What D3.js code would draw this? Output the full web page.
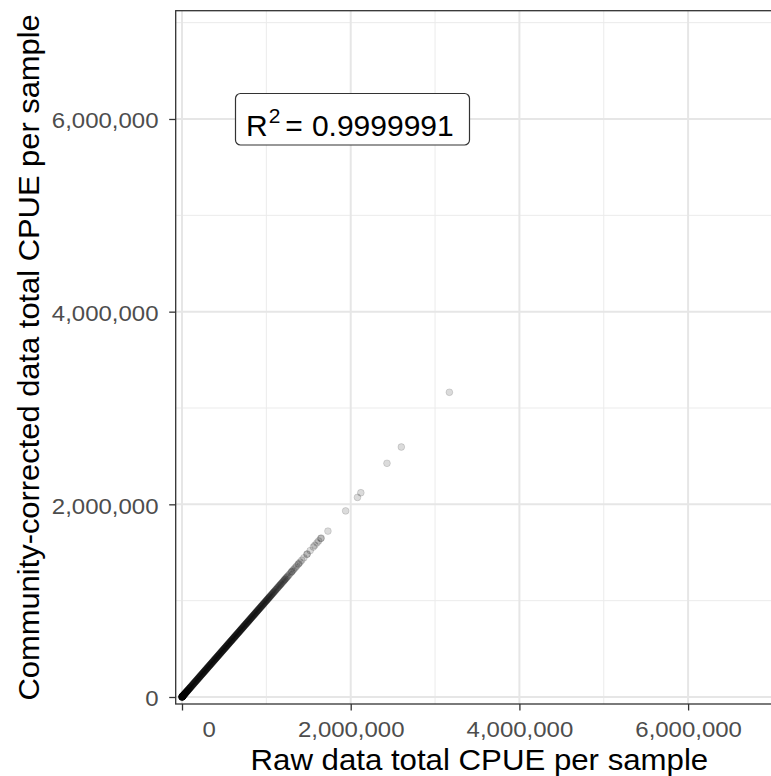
<!DOCTYPE html>
<html>
<head>
<meta charset="utf-8">
<script src="https://cdn.jsdelivr.net/npm/d3@7"></script>
<style>
  html, body { margin: 0; padding: 0; background: #ffffff; }
  svg { display: block; }
  text { font-family: "Liberation Sans", Arial, sans-serif; }
</style>
</head>
<body>
<svg id="chart" width="771" height="776"></svg>
<script>
// ---------------- data (CPUE values in thousands) ----------------
const rawCPUE = [
  0,0,0,0,1,1,1,2,2,3,3,4,5,5,6,7,8,9,10,11,12,14,15,17,18,20,22,23,25,27,29,31,33,35,38,40,42,45,47,50,52,55,57,60,63,66,68,71,74,77,80,83,86,89,92,95,98,
  101,104,108,111,115,119,122,126,130,133,137,141,144,148,152,156,159,163,167,170,174,178,182,185,189,193,196,200,204,208,211,215,219,222,226,230,234,237,241,245,249,252,256,260,263,267,271,275,278,282,286,290,293,297,301,305,308,312,316,320,323,327,331,335,338,342,346,350,353,357,361,365,368,372,376,380,384,387,391,395,399,402,406,410,414,418,421,425,429,433,437,440,444,448,452,456,459,463,467,471,475,479,482,486,490,494,498,502,505,509,513,517,521,525,528,532,536,540,544,548,552,555,559,563,567,571,575,579,583,586,590,594,598,602,606,610,614,618,621,625,629,633,637,641,645,649,653,657,661,665,669,673,677,681,685,689,693,697,701,705,709,713,717,721,725,729,733,737,741,745,750,754,758,762,766,770,774,779,783,787,791,795,800,804,808,812,817,821,825,830,834,838,843,847,851,856,860,864,869,873,878,882,887,891,896,900,905,909,914,918,923,928,932,937,942,946,951,956,961,965,970,975,980,985,990,995,1000,1005,1010,1015,1020,1026,1031,1036,1042,1047,1053,1058,1064,1070,1076,1082,1088,1094,1100,1107,1113,1120,1127,1134,1141,1148,
  1156,1162,1169,1175,1183,1190,1198,1205,1213,1220,1226,1235,1243,1252,1262,1275,1290,1300,1305,1318,1330,1345,1360,1378,1385,1400,1420,1445,1480,1485,1520,1557,1575,1600,1620,1645,1650,
  1730,1940,2080,2120,2430,2600,3170
];
const correctedCPUE = [
  0,0,0,0,1,1,1,2,2,3,3,4,5,5,6,7,8,9,10,11,12,14,15,17,18,20,22,23,25,27,29,31,33,35,38,40,42,45,47,50,52,55,57,60,63,66,68,71,74,77,80,83,86,89,92,95,98,
  101,104,108,111,115,119,122,126,130,133,137,141,144,148,152,156,159,163,167,170,174,178,182,185,189,193,196,200,204,208,211,215,219,222,226,230,234,237,241,245,249,252,256,260,263,267,271,275,278,282,286,290,293,297,301,305,308,312,316,320,323,327,331,335,338,342,346,350,353,357,361,365,368,372,376,380,384,387,391,395,399,402,406,410,414,418,421,425,429,433,437,440,444,448,452,456,459,463,467,471,475,479,482,486,490,494,498,502,505,509,513,517,521,525,528,532,536,540,544,548,552,555,559,563,567,571,575,579,583,586,590,594,598,602,606,610,614,618,621,625,629,633,637,641,645,649,653,657,661,665,669,673,677,681,685,689,693,697,701,705,709,713,717,721,725,729,733,737,741,745,750,754,758,762,766,770,774,779,783,787,791,795,800,804,808,812,817,821,825,830,834,838,843,847,851,856,860,864,869,873,878,882,887,891,896,900,905,909,914,918,923,928,932,937,942,946,951,956,961,965,970,975,980,985,990,995,1000,1005,1010,1015,1020,1026,1031,1036,1042,1047,1053,1058,1064,1070,1076,1082,1088,1094,1100,1107,1113,1120,1127,1134,1141,1148,
  1156,1162,1169,1175,1183,1190,1198,1205,1213,1220,1226,1235,1243,1252,1262,1275,1290,1300,1305,1318,1330,1345,1360,1378,1385,1400,1420,1445,1480,1485,1520,1557,1575,1600,1620,1645,1650,
  1722,1932,2072,2120,2426,2595,3163
];
const UNIT = 1000;
const xMajorTicks = [0, 2000000, 4000000, 6000000];
const xMinorTicks = [1000000, 3000000, 5000000, 7000000];
const yMajorTicks = [0, 2000000, 4000000, 6000000];
const yMinorTicks = [1000000, 3000000, 5000000, 7000000];
const xDomain = [-74700, 7125000];
const yDomain = [-72700, 7124000];
const xTitle = "Raw data total CPUE per sample";
const yTitle = "Community-corrected data total CPUE per sample";
const r2Value = "0.9999991";

// ---------------- layout ----------------
const panel = { left: 175.7, top: 10.7, right: 783, bottom: 704 };
const svg = d3.select("#chart");
svg.append("rect").attr("width", 771).attr("height", 776).attr("fill", "#ffffff");

const x = d3.scaleLinear().domain(xDomain).range([panel.left, panel.right]);
const y = d3.scaleLinear().domain(yDomain).range([panel.bottom, panel.top]);

// grid
const grid = svg.append("g");
grid.selectAll("line.xminor").data(xMinorTicks).join("line")
  .attr("x1", d => x(d)).attr("x2", d => x(d))
  .attr("y1", panel.top).attr("y2", panel.bottom)
  .attr("stroke", "#ebebeb").attr("stroke-width", 1);
grid.selectAll("line.yminor").data(yMinorTicks).join("line")
  .attr("y1", d => y(d)).attr("y2", d => y(d))
  .attr("x1", panel.left).attr("x2", panel.right)
  .attr("stroke", "#ebebeb").attr("stroke-width", 1);
grid.selectAll("line.xmajor").data(xMajorTicks).join("line")
  .attr("x1", d => x(d)).attr("x2", d => x(d))
  .attr("y1", panel.top).attr("y2", panel.bottom)
  .attr("stroke", "#e6e6e6").attr("stroke-width", 2);
grid.selectAll("line.ymajor").data(yMajorTicks).join("line")
  .attr("y1", d => y(d)).attr("y2", d => y(d))
  .attr("x1", panel.left).attr("x2", panel.right)
  .attr("stroke", "#e6e6e6").attr("stroke-width", 2);

// points
const pts = rawCPUE.map((v, i) => ({ raw: v * UNIT, cor: correctedCPUE[i] * UNIT }));
svg.append("g").selectAll("circle").data(pts).join("circle")
  .attr("cx", d => x(d.raw)).attr("cy", d => y(d.cor))
  .attr("r", 3.4)
  .attr("fill", "#000").attr("fill-opacity", 0.14)
  .attr("stroke", "#000").attr("stroke-opacity", 0.14).attr("stroke-width", 0.9);

// panel border
svg.append("rect")
  .attr("x", panel.left).attr("y", panel.top)
  .attr("width", panel.right - panel.left).attr("height", panel.bottom - panel.top)
  .attr("fill", "none").attr("stroke", "#333333").attr("stroke-width", 1.3);

// tick formatting (padded to common width, like R's format())
const fmt = d3.format(",");
const maxLen = d3.max(xMajorTicks, d => fmt(d).length);
const padFmt = d => fmt(d).padStart(maxLen, " ");

// x axis
const xAxis = svg.append("g").attr("transform", `translate(0,${panel.bottom})`)
  .call(d3.axisBottom(x).tickValues(xMajorTicks).tickSize(6.5).tickFormat(padFmt));
xAxis.select(".domain").remove();
xAxis.selectAll(".tick line").attr("stroke", "#333333").attr("stroke-width", 1.3);
xAxis.selectAll(".tick text")
  .attr("y", 0).attr("dy", 0)
  .attr("xml:space", "preserve").style("white-space", "pre")
  .attr("transform", "translate(0,33.3) scale(1.09,1)")
  .attr("font-size", 22).attr("fill", "#4d4d4d")
  .attr("font-family", "'Liberation Sans', Arial, sans-serif");

// y axis
const yAxis = svg.append("g").attr("transform", `translate(${panel.left},0)`)
  .call(d3.axisLeft(y).tickValues(yMajorTicks).tickSize(6.5).tickFormat(fmt));
yAxis.select(".domain").remove();
yAxis.selectAll(".tick line").attr("stroke", "#333333").attr("stroke-width", 1.3);
yAxis.selectAll(".tick text")
  .attr("x", 0).attr("dy", "0.36em")
  .attr("transform", "translate(-17.2,0.8) scale(1.09,1)")
  .attr("font-size", 22).attr("fill", "#4d4d4d")
  .attr("font-family", "'Liberation Sans', Arial, sans-serif");

// axis titles
svg.append("text")
  .attr("transform", `translate(${(panel.left + panel.right) / 2},769.6) scale(1.076,1)`)
  .attr("text-anchor", "middle").attr("font-size", 29).attr("fill", "#000")
  .text(xTitle);
svg.append("text")
  .attr("transform", `translate(38.5,${(panel.top + panel.bottom) / 2}) rotate(-90) scale(1.065,1)`)
  .attr("text-anchor", "middle").attr("font-size", 29).attr("fill", "#000")
  .text(yTitle);

// R^2 label
const lab = svg.append("g");
lab.append("rect")
  .attr("x", 235.5).attr("y", 93.5).attr("width", 234).attr("height", 51.5)
  .attr("rx", 5).attr("ry", 5)
  .attr("fill", "#ffffff").attr("stroke", "#333333").attr("stroke-width", 1.2);
const t = lab.append("text").attr("x", 246).attr("y", 136).attr("font-size", 30).attr("fill", "#000");
t.append("tspan").text("R");
t.append("tspan").attr("dx", 1).attr("dy", -13).attr("font-size", 21).text("2");
t.append("tspan").attr("dx", 5).attr("dy", 13).text("=");
t.append("tspan").attr("dx", 9).text(r2Value);
</script>
</body>
</html>
